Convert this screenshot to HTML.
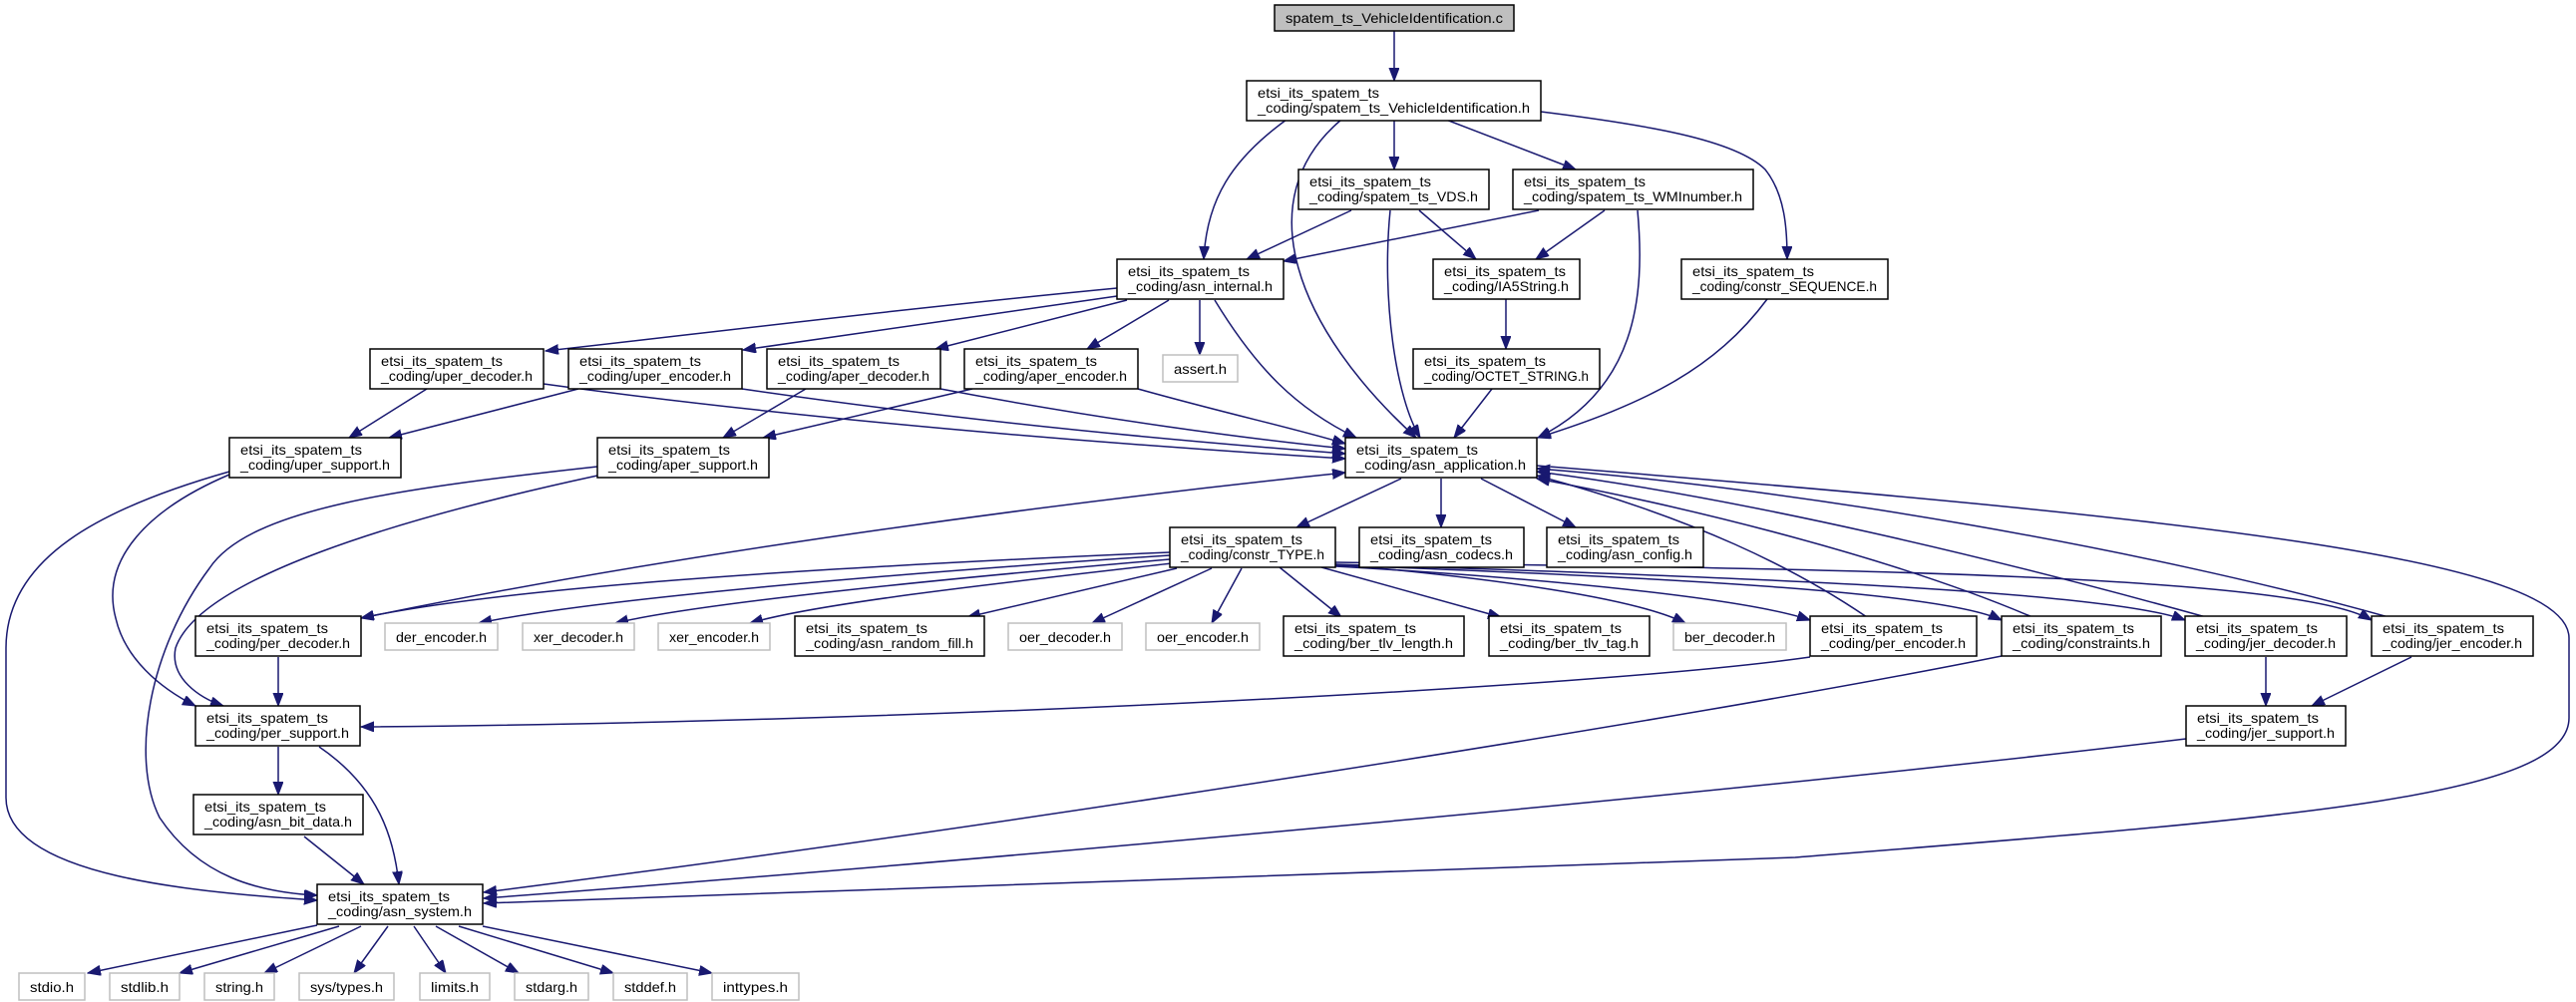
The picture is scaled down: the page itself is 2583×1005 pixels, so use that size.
<!DOCTYPE html>
<html><head><meta charset="utf-8"><style>
html,body{margin:0;padding:0;background:#fff;}
svg{display:block;}
text{font-family:"Liberation Sans",sans-serif;font-size:14px;fill:#000;}
.n{fill:#fff;stroke:#000;stroke-width:1.5;}
.g{fill:#fff;stroke:#bfbfbf;stroke-width:1.5;}
.e{fill:none;stroke:#191970;stroke-width:1.5;marker-end:url(#a);}
</style></head><body>
<svg width="2583" height="1005" viewBox="0 0 2583 1005" xmlns="http://www.w3.org/2000/svg">
<defs><marker id="a" markerUnits="userSpaceOnUse" markerWidth="14" markerHeight="12" refX="13" refY="5" orient="auto"><path d="M0,0 L13,5 L0,10 z" fill="#191970" stroke="#191970"/></marker></defs>
<g>
<path class="e" d="M1398,31 L1398,81"/>
<path class="e" d="M1290,120 C1235,160 1210,200 1207,260"/>
<path class="e" d="M1345,120 C1250,200 1300,330 1420,439"/>
<path class="e" d="M1398,120 L1398,170"/>
<path class="e" d="M1450,120 L1580,170"/>
<path class="e" d="M1545,112 C1650,125 1740,140 1770,170 C1790,195 1792,230 1792,260"/>
<path class="e" d="M1355,211 L1250,260"/>
<path class="e" d="M1423,211 L1480,260"/>
<path class="e" d="M1394,211 C1385,300 1400,400 1424,439"/>
<path class="e" d="M1543,211 L1287,262"/>
<path class="e" d="M1609,211 L1540,260"/>
<path class="e" d="M1642,211 C1650,300 1640,390 1542,439"/>
<path class="e" d="M1772,300 C1720,370 1650,405 1542,439"/>
<path class="e" d="M1510,300 L1510,350"/>
<path class="e" d="M1496,390 L1458,439"/>
<path class="e" d="M1120,289 C900,310 700,335 547,352"/>
<path class="e" d="M1120,297 C1000,315 850,335 745,351"/>
<path class="e" d="M1130,301 L938,350"/>
<path class="e" d="M1172,301 L1090,350"/>
<path class="e" d="M1203,301 L1203,356"/>
<path class="e" d="M1218,301 C1260,370 1300,410 1360,439"/>
<path class="e" d="M428,390 L350,439"/>
<path class="e" d="M545,385 C800,420 1100,445 1349,460"/>
<path class="e" d="M580,390 L390,439"/>
<path class="e" d="M744,390 C950,420 1150,440 1349,455"/>
<path class="e" d="M808,390 L725,439"/>
<path class="e" d="M943,390 C1100,420 1250,440 1349,450"/>
<path class="e" d="M975,390 L765,439"/>
<path class="e" d="M1141,390 C1230,415 1300,430 1349,445"/>
<path class="e" d="M230,473 C100,510 6,560 6,650 L6,800 C6,880 200,895 318,903"/>
<path class="e" d="M230,476 C150,510 100,560 116,620 C125,660 160,690 196,708"/>
<path class="e" d="M599,468 C400,490 250,510 210,570 C150,650 130,760 160,820 C200,880 260,895 318,898"/>
<path class="e" d="M599,477 C400,520 200,580 176,650 C170,680 200,700 224,708"/>
<path class="e" d="M1405,480 L1300,529"/>
<path class="e" d="M1445,480 L1445,529"/>
<path class="e" d="M1485,480 L1580,529"/>
<path class="e" d="M1541,467 C2200,520 2576,560 2576,640 L2576,720 C2576,800 2300,820 1800,860 C1200,885 700,897 485,906"/>
<path class="e" d="M1173,554 C800,570 500,590 362,620"/>
<path class="e" d="M1173,557 C900,575 600,600 480,625"/>
<path class="e" d="M1173,561 C950,580 700,605 617,625"/>
<path class="e" d="M1175,565 C1000,585 820,605 752,625"/>
<path class="e" d="M1180,570 L970,619"/>
<path class="e" d="M1215,570 L1095,625"/>
<path class="e" d="M1245,570 L1215,625"/>
<path class="e" d="M1283,569 L1345,619"/>
<path class="e" d="M1325,569 L1505,619"/>
<path class="e" d="M1339,566 C1500,580 1640,600 1690,625"/>
<path class="e" d="M1339,568 C1550,580 1750,600 1815,622"/>
<path class="e" d="M1339,567 C1700,580 1950,595 2007,622"/>
<path class="e" d="M1339,566 C1800,580 2120,595 2191,622"/>
<path class="e" d="M1339,564 C1800,570 2300,575 2378,622"/>
<path class="e" d="M362,620 C700,550 1100,500 1349,474"/>
<path class="e" d="M279,659 L279,708"/>
<path class="e" d="M1872,619 C1800,570 1700,520 1541,477"/>
<path class="e" d="M1815,659 C1600,690 900,725 362,729"/>
<path class="e" d="M2038,619 C1900,560 1700,510 1541,480"/>
<path class="e" d="M2007,658 C1700,720 1000,830 485,895"/>
<path class="e" d="M2212,619 C2000,560 1750,500 1541,473"/>
<path class="e" d="M2272,659 L2272,708"/>
<path class="e" d="M2395,619 C2150,550 1800,490 1541,470"/>
<path class="e" d="M2418,659 L2318,708"/>
<path class="e" d="M2192,741 C1700,800 900,870 485,901"/>
<path class="e" d="M279,749 L279,797"/>
<path class="e" d="M320,749 C380,790 395,840 400,887"/>
<path class="e" d="M305,839 L365,887"/>
<path class="e" d="M318,928 L88,976"/>
<path class="e" d="M340,929 L180,976"/>
<path class="e" d="M362,929 L265,976"/>
<path class="e" d="M389,929 L355,976"/>
<path class="e" d="M415,929 L447,976"/>
<path class="e" d="M437,929 L520,976"/>
<path class="e" d="M460,929 L615,976"/>
<path class="e" d="M484,929 L714,976"/>
</g>
<g>
<rect x="1278" y="5" width="240" height="26" fill="#bfbfbf" stroke="#000" stroke-width="1.5"/>
<text x="1398" y="23" text-anchor="middle" textLength="218" lengthAdjust="spacingAndGlyphs">spatem_ts_VehicleIdentification.c</text>

<rect class="n" x="1250" y="81" width="295" height="40"/><text x="1261" y="98" textLength="122" lengthAdjust="spacingAndGlyphs">etsi_its_spatem_ts</text><text x="1261" y="113" textLength="273" lengthAdjust="spacingAndGlyphs">_coding/spatem_ts_VehicleIdentification.h</text>
<rect class="n" x="1302" y="170" width="191" height="40"/><text x="1313" y="187" textLength="122" lengthAdjust="spacingAndGlyphs">etsi_its_spatem_ts</text><text x="1313" y="202" textLength="169" lengthAdjust="spacingAndGlyphs">_coding/spatem_ts_VDS.h</text>
<rect class="n" x="1517" y="170" width="241" height="40"/><text x="1528" y="187" textLength="122" lengthAdjust="spacingAndGlyphs">etsi_its_spatem_ts</text><text x="1528" y="202" textLength="219" lengthAdjust="spacingAndGlyphs">_coding/spatem_ts_WMInumber.h</text>
<rect class="n" x="1120" y="260" width="167" height="40"/><text x="1131" y="277" textLength="122" lengthAdjust="spacingAndGlyphs">etsi_its_spatem_ts</text><text x="1131" y="292" textLength="145" lengthAdjust="spacingAndGlyphs">_coding/asn_internal.h</text>
<rect class="n" x="1437" y="260" width="147" height="40"/><text x="1448" y="277" textLength="122" lengthAdjust="spacingAndGlyphs">etsi_its_spatem_ts</text><text x="1448" y="292" textLength="125" lengthAdjust="spacingAndGlyphs">_coding/IA5String.h</text>
<rect class="n" x="1686" y="260" width="207" height="40"/><text x="1697" y="277" textLength="122" lengthAdjust="spacingAndGlyphs">etsi_its_spatem_ts</text><text x="1697" y="292" textLength="185" lengthAdjust="spacingAndGlyphs">_coding/constr_SEQUENCE.h</text>
<rect class="n" x="371" y="350" width="174" height="40"/><text x="382" y="367" textLength="122" lengthAdjust="spacingAndGlyphs">etsi_its_spatem_ts</text><text x="382" y="382" textLength="152" lengthAdjust="spacingAndGlyphs">_coding/uper_decoder.h</text>
<rect class="n" x="570" y="350" width="174" height="40"/><text x="581" y="367" textLength="122" lengthAdjust="spacingAndGlyphs">etsi_its_spatem_ts</text><text x="581" y="382" textLength="152" lengthAdjust="spacingAndGlyphs">_coding/uper_encoder.h</text>
<rect class="n" x="769" y="350" width="174" height="40"/><text x="780" y="367" textLength="122" lengthAdjust="spacingAndGlyphs">etsi_its_spatem_ts</text><text x="780" y="382" textLength="152" lengthAdjust="spacingAndGlyphs">_coding/aper_decoder.h</text>
<rect class="n" x="967" y="350" width="174" height="40"/><text x="978" y="367" textLength="122" lengthAdjust="spacingAndGlyphs">etsi_its_spatem_ts</text><text x="978" y="382" textLength="152" lengthAdjust="spacingAndGlyphs">_coding/aper_encoder.h</text>
<rect class="n" x="1417" y="350" width="187" height="40"/><text x="1428" y="367" textLength="122" lengthAdjust="spacingAndGlyphs">etsi_its_spatem_ts</text><text x="1428" y="382" textLength="165" lengthAdjust="spacingAndGlyphs">_coding/OCTET_STRING.h</text>
<rect class="n" x="230" y="439" width="172" height="40"/><text x="241" y="456" textLength="122" lengthAdjust="spacingAndGlyphs">etsi_its_spatem_ts</text><text x="241" y="471" textLength="150" lengthAdjust="spacingAndGlyphs">_coding/uper_support.h</text>
<rect class="n" x="599" y="439" width="172" height="40"/><text x="610" y="456" textLength="122" lengthAdjust="spacingAndGlyphs">etsi_its_spatem_ts</text><text x="610" y="471" textLength="150" lengthAdjust="spacingAndGlyphs">_coding/aper_support.h</text>
<rect class="n" x="1349" y="439" width="192" height="40"/><text x="1360" y="456" textLength="122" lengthAdjust="spacingAndGlyphs">etsi_its_spatem_ts</text><text x="1360" y="471" textLength="170" lengthAdjust="spacingAndGlyphs">_coding/asn_application.h</text>
<rect class="n" x="1173" y="529" width="166" height="40"/><text x="1184" y="546" textLength="122" lengthAdjust="spacingAndGlyphs">etsi_its_spatem_ts</text><text x="1184" y="561" textLength="144" lengthAdjust="spacingAndGlyphs">_coding/constr_TYPE.h</text>
<rect class="n" x="1363" y="529" width="165" height="40"/><text x="1374" y="546" textLength="122" lengthAdjust="spacingAndGlyphs">etsi_its_spatem_ts</text><text x="1374" y="561" textLength="143" lengthAdjust="spacingAndGlyphs">_coding/asn_codecs.h</text>
<rect class="n" x="1551" y="529" width="157" height="40"/><text x="1562" y="546" textLength="122" lengthAdjust="spacingAndGlyphs">etsi_its_spatem_ts</text><text x="1562" y="561" textLength="135" lengthAdjust="spacingAndGlyphs">_coding/asn_config.h</text>
<rect class="n" x="196" y="618" width="166" height="40"/><text x="207" y="635" textLength="122" lengthAdjust="spacingAndGlyphs">etsi_its_spatem_ts</text><text x="207" y="650" textLength="144" lengthAdjust="spacingAndGlyphs">_coding/per_decoder.h</text>
<rect class="n" x="797" y="618" width="190" height="40"/><text x="808" y="635" textLength="122" lengthAdjust="spacingAndGlyphs">etsi_its_spatem_ts</text><text x="808" y="650" textLength="168" lengthAdjust="spacingAndGlyphs">_coding/asn_random_fill.h</text>
<rect class="n" x="1287" y="618" width="181" height="40"/><text x="1298" y="635" textLength="122" lengthAdjust="spacingAndGlyphs">etsi_its_spatem_ts</text><text x="1298" y="650" textLength="159" lengthAdjust="spacingAndGlyphs">_coding/ber_tlv_length.h</text>
<rect class="n" x="1493" y="618" width="161" height="40"/><text x="1504" y="635" textLength="122" lengthAdjust="spacingAndGlyphs">etsi_its_spatem_ts</text><text x="1504" y="650" textLength="139" lengthAdjust="spacingAndGlyphs">_coding/ber_tlv_tag.h</text>
<rect class="n" x="1815" y="618" width="167" height="40"/><text x="1826" y="635" textLength="122" lengthAdjust="spacingAndGlyphs">etsi_its_spatem_ts</text><text x="1826" y="650" textLength="145" lengthAdjust="spacingAndGlyphs">_coding/per_encoder.h</text>
<rect class="n" x="2007" y="618" width="160" height="40"/><text x="2018" y="635" textLength="122" lengthAdjust="spacingAndGlyphs">etsi_its_spatem_ts</text><text x="2018" y="650" textLength="138" lengthAdjust="spacingAndGlyphs">_coding/constraints.h</text>
<rect class="n" x="2191" y="618" width="162" height="40"/><text x="2202" y="635" textLength="122" lengthAdjust="spacingAndGlyphs">etsi_its_spatem_ts</text><text x="2202" y="650" textLength="140" lengthAdjust="spacingAndGlyphs">_coding/jer_decoder.h</text>
<rect class="n" x="2378" y="618" width="162" height="40"/><text x="2389" y="635" textLength="122" lengthAdjust="spacingAndGlyphs">etsi_its_spatem_ts</text><text x="2389" y="650" textLength="140" lengthAdjust="spacingAndGlyphs">_coding/jer_encoder.h</text>
<rect class="n" x="196" y="708" width="165" height="40"/><text x="207" y="725" textLength="122" lengthAdjust="spacingAndGlyphs">etsi_its_spatem_ts</text><text x="207" y="740" textLength="143" lengthAdjust="spacingAndGlyphs">_coding/per_support.h</text>
<rect class="n" x="2192" y="708" width="160" height="40"/><text x="2203" y="725" textLength="122" lengthAdjust="spacingAndGlyphs">etsi_its_spatem_ts</text><text x="2203" y="740" textLength="138" lengthAdjust="spacingAndGlyphs">_coding/jer_support.h</text>
<rect class="n" x="194" y="797" width="170" height="40"/><text x="205" y="814" textLength="122" lengthAdjust="spacingAndGlyphs">etsi_its_spatem_ts</text><text x="205" y="829" textLength="148" lengthAdjust="spacingAndGlyphs">_coding/asn_bit_data.h</text>
<rect class="n" x="318" y="887" width="166" height="40"/><text x="329" y="904" textLength="122" lengthAdjust="spacingAndGlyphs">etsi_its_spatem_ts</text><text x="329" y="919" textLength="144" lengthAdjust="spacingAndGlyphs">_coding/asn_system.h</text>

<rect class="g" x="1166" y="356" width="75" height="27"/><text x="1203.5" y="375" text-anchor="middle" textLength="53" lengthAdjust="spacingAndGlyphs">assert.h</text>
<rect class="g" x="386" y="625" width="113" height="27"/><text x="442.5" y="644" text-anchor="middle" textLength="91" lengthAdjust="spacingAndGlyphs">der_encoder.h</text>
<rect class="g" x="524" y="625" width="112" height="27"/><text x="580" y="644" text-anchor="middle" textLength="90" lengthAdjust="spacingAndGlyphs">xer_decoder.h</text>
<rect class="g" x="660" y="625" width="112" height="27"/><text x="716" y="644" text-anchor="middle" textLength="90" lengthAdjust="spacingAndGlyphs">xer_encoder.h</text>
<rect class="g" x="1011" y="625" width="114" height="27"/><text x="1068" y="644" text-anchor="middle" textLength="92" lengthAdjust="spacingAndGlyphs">oer_decoder.h</text>
<rect class="g" x="1149" y="625" width="114" height="27"/><text x="1206" y="644" text-anchor="middle" textLength="92" lengthAdjust="spacingAndGlyphs">oer_encoder.h</text>
<rect class="g" x="1678" y="625" width="113" height="27"/><text x="1734.5" y="644" text-anchor="middle" textLength="91" lengthAdjust="spacingAndGlyphs">ber_decoder.h</text>
<rect class="g" x="19" y="976" width="66" height="27"/><text x="52" y="995" text-anchor="middle" textLength="44" lengthAdjust="spacingAndGlyphs">stdio.h</text>
<rect class="g" x="110" y="976" width="70" height="27"/><text x="145" y="995" text-anchor="middle" textLength="48" lengthAdjust="spacingAndGlyphs">stdlib.h</text>
<rect class="g" x="205" y="976" width="70" height="27"/><text x="240" y="995" text-anchor="middle" textLength="48" lengthAdjust="spacingAndGlyphs">string.h</text>
<rect class="g" x="300" y="976" width="95" height="27"/><text x="347.5" y="995" text-anchor="middle" textLength="73" lengthAdjust="spacingAndGlyphs">sys/types.h</text>
<rect class="g" x="421" y="976" width="70" height="27"/><text x="456" y="995" text-anchor="middle" textLength="48" lengthAdjust="spacingAndGlyphs">limits.h</text>
<rect class="g" x="516" y="976" width="74" height="27"/><text x="553" y="995" text-anchor="middle" textLength="52" lengthAdjust="spacingAndGlyphs">stdarg.h</text>
<rect class="g" x="615" y="976" width="74" height="27"/><text x="652" y="995" text-anchor="middle" textLength="52" lengthAdjust="spacingAndGlyphs">stddef.h</text>
<rect class="g" x="714" y="976" width="87" height="27"/><text x="757.5" y="995" text-anchor="middle" textLength="65" lengthAdjust="spacingAndGlyphs">inttypes.h</text>
</g>
</svg>
</body></html>
